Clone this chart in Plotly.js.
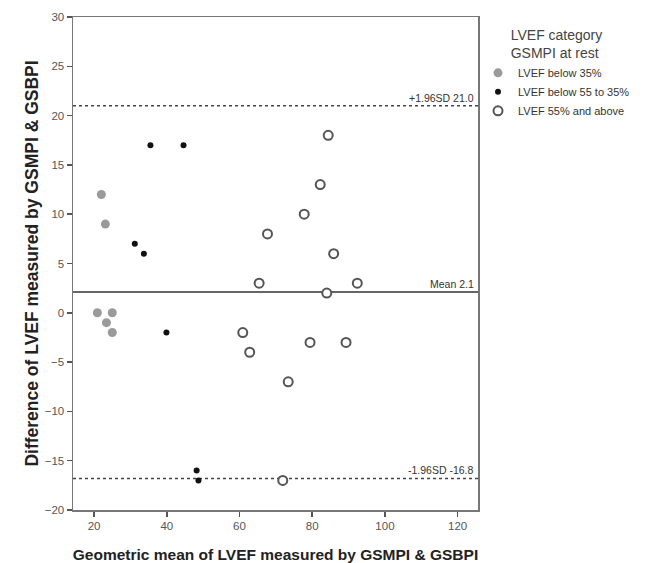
<!DOCTYPE html>
<html>
<head>
<meta charset="utf-8">
<script src="https://cdn.plot.ly/plotly-3.0.1.min.js"></script>
<style>html,body{margin:0;padding:0;background:#fff;} #chart{width:647px;height:563px;}</style>
</head>
<body>
<div id="chart"></div>
<script>
// Data
const lowX = [22.0, 23.1, 20.9, 25.0, 23.4, 25.0];
const lowY = [12, 9, 0, 0, -1, -2];
const midX = [35.5, 44.6, 31.2, 33.7, 39.9, 48.2, 48.7];
const midY = [17, 17, 7, 6, -2, -16, -17];
const highX = [84.4, 82.2, 77.8, 67.7, 85.9, 65.4, 92.4, 84.0, 60.9, 62.8, 79.4, 89.3, 73.4, 71.9];
const highY = [18, 13, 10, 8, 6, 3, 3, 2, -2, -4, -3, -3, -7, -17];
const seriesNames = ["LVEF below 35%", "LVEF below 55 to 35%", "LVEF 55% and above"];
const limitValues = [21.0, 2.1, -16.8];
const limitLabels = ["+1.96SD 21.0", "Mean 2.1", "-1.96SD -16.8"];
const xTicks = [20, 40, 60, 80, 100, 120];
const yTicks = [-20, -15, -10, -5, 0, 5, 10, 15, 20, 25, 30];

const font = "Liberation Sans, Arial, sans-serif";

const traces = [
  {x: lowX, y: lowY, name: seriesNames[0], type: "scatter", mode: "markers",
   marker: {size: 9, color: "#9a9a9a", line: {width: 0}}},
  {x: midX, y: midY, name: seriesNames[1], type: "scatter", mode: "markers",
   marker: {size: 6, color: "#111111", line: {width: 0}}},
  {x: highX, y: highY, name: seriesNames[2], type: "scatter", mode: "markers",
   marker: {size: 9, color: "#ffffff", line: {width: 2, color: "#555555"}}}
];

const shapes = limitValues.map((v, i) => ({
  type: "line", xref: "paper", x0: 0, x1: 1, yref: "y", y0: v, y1: v,
  line: {color: i === 1 ? "#666666" : "#444444", width: i === 1 ? 2 : 1.5, dash: i === 1 ? "solid" : "dot"},
  layer: "below"
}));

const annotations = limitValues.map((v, i) => ({
  xref: "paper", x: 0.995, xanchor: "right", yref: "y", y: v, yanchor: "bottom",
  text: limitLabels[i], showarrow: false, font: {family: font, size: 10.5, color: "#333"}
}));

const layout = {
  width: 647, height: 563,
  margin: {l: 73, r: 144, t: 17, b: 53},
  paper_bgcolor: "#fff", plot_bgcolor: "#fff",
  font: {family: font},
  showlegend: true,
  legend: {
    x: 1.0, xanchor: "left", y: 0.99, yanchor: "top",
    title: {text: "LVEF category<br>GSMPI at rest", side: "top center", font: {family: font, size: 14, color: "#444"}},
    font: {family: font, size: 11, color: "#333"},
    itemwidth: 30, tracegroupgap: 0, bgcolor: "rgba(0,0,0,0)"
  },
  xaxis: {
    range: [14.2, 125.6], tickvals: xTicks, ticks: "outside", ticklen: 5, tickwidth: 1.5, tickcolor: "#555",
    showgrid: false, zeroline: false, showline: true, mirror: true, linecolor: "#777", linewidth: 1.5,
    tickfont: {family: font, size: 11.5, color: "#555"},
    title: {text: "<b>Geometric mean of LVEF measured by GSMPI & GSBPI</b>", font: {family: font, size: 15.5, color: "#222"}, standoff: 18}
  },
  yaxis: {
    range: [-20, 30], tickvals: yTicks, ticks: "outside", ticklen: 5, tickwidth: 1.5, tickcolor: "#555",
    showgrid: false, zeroline: false, showline: true, mirror: true, linecolor: "#777", linewidth: 1.5,
    tickfont: {family: font, size: 11.5, color: "#555"},
    title: {text: "<b>Difference of LVEF measured by GSMPI & GSBPI</b>", font: {family: font, size: 17.5, color: "#222"}, standoff: 1}
  },
  shapes: shapes,
  annotations: annotations
};

Plotly.newPlot("chart", traces, layout, {displayModeBar: false, staticPlot: true});
</script>
</body>
</html>
